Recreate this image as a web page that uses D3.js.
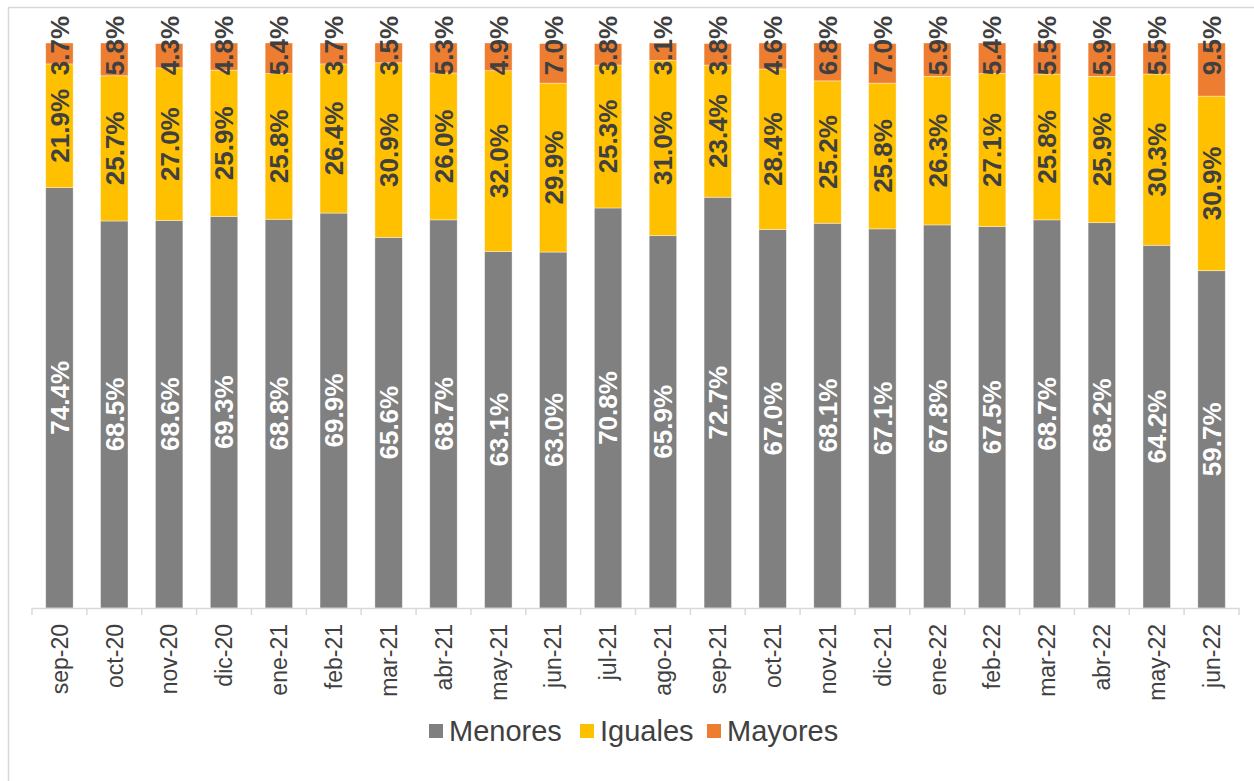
<!DOCTYPE html>
<html>
<head>
<meta charset="utf-8">
<script src="https://cdn.jsdelivr.net/npm/d3@7"></script>
<style>
  body { margin: 0; background: #fff; }
  svg { display: block; font-family: "Liberation Sans", Arial, sans-serif; }
</style>
</head>
<body>
<svg id="chart" width="1254" height="781"></svg>
<script>
"use strict";

const months = ["sep-20","oct-20","nov-20","dic-20","ene-21","feb-21","mar-21","abr-21","may-21","jun-21","jul-21",
  "ago-21","sep-21","oct-21","nov-21","dic-21","ene-22","feb-22","mar-22","abr-22","may-22","jun-22"];
const menores = [74.4,68.5,68.6,69.3,68.8,69.9,65.6,68.7,63.1,63.0,70.8,65.9,72.7,67.0,68.1,67.1,67.8,67.5,68.7,68.2,64.2,59.7];
const iguales = [21.9,25.7,27.0,25.9,25.8,26.4,30.9,26.0,32.0,29.9,25.3,31.0,23.4,28.4,25.2,25.8,26.3,27.1,25.8,25.9,30.3,30.9];
const mayores = [3.7,5.8,4.3,4.8,5.4,3.7,3.5,5.3,4.9,7.0,3.8,3.1,3.8,4.6,6.8,7.0,5.9,5.4,5.5,5.9,5.5,9.5];
const seriesNames = ["Menores","Iguales","Mayores"];
const colors = ["#808080","#ffc000","#ed7d31"];

let svg = d3.select("#chart"),
  margin = {top: 43, left: 32, right: 15, bottom: 173},
  W = 1254, H = 781,
  width = W - margin.left - margin.right,
  height = H - margin.top - margin.bottom
;

// chart frame
svg.append("rect")
  .attr("x", 8.5).attr("y", 7.5)
  .attr("width", 1300).attr("height", 900)
  .attr("fill", "none").attr("stroke", "#d9d9d9").attr("stroke-width", 1.5);

let g = svg.append("g").attr("transform", "translate(" + margin.left + "," + margin.top + ")");

let x = d3.scaleBand().domain(months).range([0, width]).paddingInner(0.5).paddingOuter(0.25),
  y = d3.scaleLinear().domain([0, 100]).range([height, 0]);

let rows = months.map(function(m, i) {
  return {month: m, Menores: menores[i], Iguales: iguales[i], Mayores: mayores[i]};
});
let stack = d3.stack().keys(seriesNames)(rows);

let layers = g.selectAll("g.layer")
  .data(stack)
  .enter().append("g")
  .attr("class", "layer")
  .attr("fill", function(d, i) { return colors[i]; });

layers.selectAll("rect")
  .data(function(d) { return d; })
  .enter().append("rect")
  .attr("x", function(d) { return x(d.data.month); })
  .attr("y", function(d) { return y(Math.min(d[1], 100)); })
  .attr("width", x.bandwidth())
  .attr("height", function(d) { return y(d[0]) - y(Math.min(d[1], 100)); })
  .attr("stroke", "#ffffff")
  .attr("stroke-opacity", 0.5)
  .attr("stroke-width", 0.75);

// axis line + category labels
let axis = g.append("g")
  .attr("transform", "translate(0," + height + ")")
  .call(d3.axisBottom(x).tickSize(0).tickPadding(0));
axis.select(".domain").attr("stroke", "#d9d9d9").attr("stroke-width", 1.5);
axis.selectAll("text")
  .attr("transform", "rotate(-90)")
  .attr("text-anchor", "end")
  .attr("x", -16)
  .attr("y", 0)
  .attr("dy", "0.36em")
  .attr("fill", "#404040")
  .style("font-size", "23px")
  .style("font-family", "Liberation Sans, Arial, sans-serif");

// tick marks between categories
let step = x.step();
g.append("g").selectAll("line")
  .data(d3.range(months.length + 1))
  .enter().append("line")
  .attr("x1", function(i) { return i * step; })
  .attr("x2", function(i) { return i * step; })
  .attr("y1", height)
  .attr("y2", height + 7)
  .attr("stroke", "#d9d9d9")
  .attr("stroke-width", 1.5);

// data labels
let labelColors = ["#ffffff", "#404040", "#404040"];
stack.forEach(function(layer, si) {
  g.append("g").selectAll("text")
    .data(layer)
    .enter().append("text")
    .attr("transform", function(d) {
      let cx = x(d.data.month) + x.bandwidth() / 2,
        cy = si === 2 ? y(100) - 27 : (y(d[0]) + y(d[1])) / 2;
      return "translate(" + cx + "," + cy + ") rotate(-90)";
    })
    .attr("text-anchor", si === 2 ? "end" : "middle")
    .attr("dy", "0.36em")
    .attr("fill", labelColors[si])
    .style("font-size", "26px")
    .style("font-weight", "bold")
    .text(function(d) { return d.data[seriesNames[si]].toFixed(1) + "%"; });
});

// legend
let legendX = [429, 580, 707];
let legend = svg.append("g").attr("transform", "translate(0,731)");
seriesNames.forEach(function(name, i) {
  legend.append("rect")
    .attr("x", legendX[i]).attr("y", -7)
    .attr("width", 14).attr("height", 14)
    .attr("fill", colors[i]);
  legend.append("text")
    .attr("x", legendX[i] + 20).attr("y", 0)
    .attr("dy", "0.36em")
    .attr("fill", "#404040")
    .style("font-size", "29px")
    .text(name);
});
</script>
</body>
</html>
